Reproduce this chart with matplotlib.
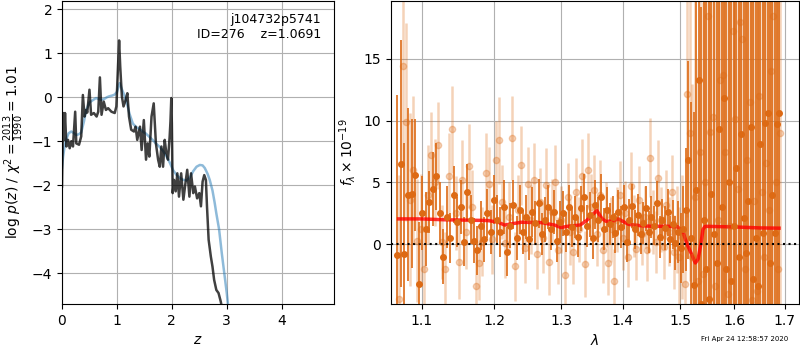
import numpy as np
import matplotlib
matplotlib.use('Agg')
import matplotlib.pyplot as plt
from matplotlib.ticker import FixedLocator, NullLocator, FormatStrFormatter

# p(z) curves (left panel)
z_prior = [0.00, 0.02, 0.05, 0.08, 0.12, 0.17, 0.22, 0.26, 0.31, 0.35, 0.40, 0.44, 0.50,
           0.57, 0.62, 0.66, 0.72, 0.77, 0.82, 0.86, 0.92, 0.96, 1.00, 1.05, 1.09, 1.14,
           1.19, 1.23, 1.29, 1.35, 1.41, 1.47, 1.53, 1.59, 1.65, 1.71, 1.77, 1.84, 1.90,
           1.96, 2.02, 2.08, 2.15, 2.21, 2.27, 2.33, 2.39, 2.45, 2.51, 2.56, 2.60, 2.65,
           2.69, 2.74, 2.78, 2.81, 2.86, 2.91, 2.95, 3.00, 3.03]
lnp_prior = [-1.60, -1.35, -1.10, -0.95, -0.82, -0.78, -0.82, -0.86, -0.84, -0.80, -0.55,
             -0.29, -0.12, -0.06, -0.02, -0.04, -0.06, -0.04, 0.00, 0.02, 0.04, 0.06, 0.12,
             0.32, 0.18, 0.03, -0.18, -0.38, -0.60, -0.68, -0.72, -0.78, -0.83, -0.90,
             -0.97, -1.05, -1.12, -1.22, -1.34, -1.48, -1.65, -1.76, -1.84, -1.88, -1.89,
             -1.82, -1.68, -1.58, -1.54, -1.55, -1.61, -1.74, -1.88, -2.12, -2.40, -2.64,
             -3.00, -3.55, -3.95, -4.45, -4.80]

z_fit = [0.00, 0.02, 0.04, 0.055, 0.08, 0.11, 0.14, 0.17, 0.20, 0.24, 0.26, 0.31, 0.35,
         0.38, 0.41, 0.44, 0.46, 0.50, 0.53, 0.58, 0.63, 0.66, 0.69, 0.72, 0.76, 0.80,
         0.84, 0.90, 0.96, 0.99, 1.02, 1.04, 1.06, 1.09, 1.12, 1.16, 1.19, 1.22, 1.26,
         1.31, 1.34, 1.37, 1.42, 1.45, 1.49, 1.53, 1.56, 1.59, 1.63, 1.67, 1.71, 1.75,
         1.78, 1.81, 1.84, 1.87, 1.90, 1.93, 1.96, 1.975, 1.99, 2.00, 2.015, 2.04, 2.07,
         2.10, 2.13, 2.17, 2.21, 2.24, 2.28, 2.32, 2.35, 2.39, 2.42, 2.46, 2.50, 2.53,
         2.56, 2.59, 2.62, 2.64, 2.67, 2.71, 2.74, 2.77, 2.81, 2.85, 2.89, 2.92]
lnp_fit = [-2.03, -0.36, -0.97, -0.36, -1.12, -0.97, -1.16, -1.00, -1.12, -0.33, -1.05,
           -1.08, -0.89, 0.05, -0.44, -0.29, -0.35, 0.17, -0.40, -0.36, -0.44, -0.33, 0.45,
           -0.40, -0.10, -0.29, -0.25, -0.33, -0.36, -0.21, 0.70, 1.29, 0.70, 0.02, -0.21,
           -0.06, 0.09, -0.44, -0.74, -0.78, -0.67, -0.97, -0.67, -1.20, -0.52, -1.42,
           -1.05, -1.35, -0.44, -0.14, -1.05, -1.42, -1.58, -1.12, -1.58, -0.97, -1.27,
           -1.42, -0.90, -0.55, -0.02, -0.60, -2.18, -1.88, -2.14, -1.73, -2.26, -1.73,
           -2.33, -2.03, -1.65, -2.26, -1.73, -2.18, -2.03, -2.30, -2.18, -2.48, -1.92,
           -1.77, -1.88, -2.48, -3.24, -3.62, -3.85, -4.15, -4.38, -4.45, -4.64, -4.83]

# spectrum (right panel), two position angles on a constant-dispersion grid
lam_a = np.arange(133) * 0.0047 + 1.068
flux_a = [-0.9, 6.5, -0.8, 4.0, 4.1, 5.6, -3.2, 2.5, 1.2, 3.4, 4.5, 5.5, 2.5, -1.0, 2.2,
          0.5, 4.0, 1.8, 3.0, 0.2, 4.2, 2.0, 0.3, -0.5, 1.5, 0.4, 2.5, 1.0, 3.6, 2.0, 1.0,
          3.0, -0.6, 1.5, 3.2, 0.5, 2.8, 1.0, 2.2, 0.4, 2.6, 1.7, 3.3, 0.8, 2.0, 3.0, 1.2,
          2.6, 0.3, 1.8, 2.5, 1.0, 3.0, 1.4, 2.2, 0.6, 2.9, 3.8, 1.5, 2.4, 0.5, 3.2, 2.0,
          3.8, 1.2, 2.8, 1.6, 2.2, 0.9, 2.6, 1.4, 3.0, 0.2, 2.0, 3.1, 1.2, 2.4, 0.8, 1.7,
          2.9, 1.0, 2.2, 1.5, 3.3, 0.6, 2.0, 1.3, 2.6, 0.4, 1.6, 0.1, 1.0, -0.3, 1.2, 2.8,
          6.8, 0.5, -3.3, 4.4, 13.3, -4.8, 2.0, -2.0, -4.4, 4.1, 0.8, -1.5, 9.3, 3.0, 11.8,
          -2.0, 5.0, -3.0, 1.5, 6.2, -1.0, 8.9, 2.1, -0.7, 3.5, 9.5, -2.8, 0.5, -3.4, 8.1,
          0.9, 9.8, 10.6, -1.5, 4.0, 0.9, 9.7, 10.6]
err_a = [13, 10, 9, 7, 6, 4.5, 5, 3, 3, 2.5, 3, 2.7, 2.5, 2.2, 2.5, 2, 2.3, 2, 2.2, 2, 2.3,
         2, 1.8, 2, 2, 1.8, 2, 1.8, 2, 2, 2, 2.2, 2, 1.8, 2, 1.8, 2, 1.8, 1.8, 1.7, 2, 1.8,
         2, 1.7, 1.8, 1.8, 1.7, 1.8, 1.7, 1.7, 1.8, 1.6, 1.8, 1.6, 1.7, 1.6, 1.8, 1.9, 1.7,
         1.8, 1.7, 2, 1.8, 1.9, 1.7, 1.8, 1.7, 1.7, 1.6, 1.8, 1.7, 1.8, 1.6, 1.7, 1.8, 1.6,
         1.7, 1.6, 1.7, 1.8, 1.7, 1.7, 1.6, 1.8, 1.7, 1.7, 1.8, 1.9, 1.9, 2.0, 2.2, 2.5,
         2.8, 3.5, 5, 8, 11, 14, 18, 22, 24, 22, 24, 25, 24, 25, 26, 27, 26, 28, 27, 28, 28,
         29, 30, 30, 30, 31, 31, 32, 32, 33, 33, 34, 34, 35, 35, 36, 36, 37, 37, 38, 38]

lam_b = np.arange(133) * 0.0047 + 1.0704
flux_b = [-4.4, 14.4, 9.9, 3.6, 6.0, 0.3, 1.2, -2.0, 4.0, 7.2, 5.0, 8.0, 0.2, -2.0, 5.5,
          9.3, 2.5, -1.4, 5.2, 1.0, 6.3, 3.0, -3.4, -1.5, 0.2, 5.8, 4.9, 0.4, 6.8, 8.4, 3.4,
          0.1, 2.2, 8.6, -1.8, 2.8, 6.4, -0.3, 4.9, 2.0, 5.2, -0.8, 3.4, 0.5, 4.8, -1.4,
          2.6, 5.0, -0.5, 2.0, -2.5, 3.8, 1.0, -0.6, 4.2, 1.2, 5.5, -1.6, 6.0, 3.0, 4.4,
          0.8, 4.0, -0.5, 2.4, -1.5, 1.2, -3.0, 2.0, 4.0, 0.5, 2.5, -1.0, 4.7, 1.5, -0.4,
          3.6, 0.8, 2.2, -0.5, 7.0, 1.8, 0.2, 5.4, 2.0, -0.2, 3.2, 1.0, 4.2, -0.6, 1.2,
          -1.0, 0.6, -3.2, 12.2, 9.0, -1.0, 3.8, -3.0, 7.5, -2.4, 5.0, 18.5, 9.1, 10.3,
          -3.4, 2.0, 13.3, 13.7, 7.5, -4.0, 1.5, 17.3, 10.1, 4.5, 18.0, 16.6, -2.0, 6.8,
          11.5, -4.5, 3.5, -3.8, 12.0, 4.2, -1.0, 6.6, 2.8, 14.0, 18.5, 5.0, -2.0, 9.0]
err_b = [10, 8, 8, 7, 6, 5, 4.5, 4, 4, 3.5, 3.5, 3.5, 3, 3, 3.5, 3.5, 3, 3, 3.2, 3, 3.4, 3,
         3, 3, 2.8, 3.2, 3, 2.8, 3.2, 3.5, 3, 2.8, 2.8, 3.4, 2.8, 2.8, 3.2, 2.8, 3, 2.8, 3,
         2.8, 2.8, 2.8, 3, 2.7, 2.7, 3, 2.7, 2.7, 2.7, 2.8, 2.7, 2.6, 2.8, 2.6, 3, 2.7, 3,
         2.7, 2.8, 2.6, 2.8, 2.6, 2.6, 2.6, 2.6, 2.6, 2.6, 2.7, 2.6, 2.6, 2.5, 2.8, 2.5,
         2.5, 2.7, 2.5, 2.5, 2.5, 3.2, 2.6, 2.5, 3, 2.6, 2.6, 2.8, 2.8, 3, 3, 3.5, 4, 5, 6,
         10, 12, 14, 16, 18, 20, 22, 22, 24, 24, 25, 25, 26, 26, 27, 27, 28, 28, 29, 29,
         30, 30, 31, 31, 32, 32, 33, 33, 34, 34, 35, 35, 36, 36, 37, 37, 38, 38, 39]

# best-fit model
lam_model = [1.070, 1.100, 1.130, 1.160, 1.190, 1.205, 1.215, 1.225, 1.240, 1.270, 1.290,
             1.300, 1.310, 1.330, 1.340, 1.350, 1.357, 1.365, 1.372, 1.385, 1.392, 1.400,
             1.410, 1.430, 1.450, 1.480, 1.495, 1.505, 1.512, 1.520, 1.527, 1.532, 1.537,
             1.541, 1.545, 1.600, 1.650, 1.688]
flux_model = [2.05, 2.05, 1.98, 1.95, 1.92, 1.80, 1.55, 1.65, 1.78, 1.75, 1.55, 1.35, 1.45,
              1.55, 1.90, 2.40, 2.72, 2.10, 1.85, 1.90, 2.05, 1.85, 1.60, 1.50, 1.45, 1.45,
              1.40, 0.90, 0.00, -0.80, -1.52, -1.20, 0.00, 1.20, 1.45, 1.40, 1.32, 1.30]

spec_color = '#dd6a14'

fig = plt.figure(figsize=(8, 3.5), dpi=100)

ax = fig.add_axes([0.0775, 0.1314, 0.3405, 0.865])
ax.plot(z_prior, lnp_prior, color='#1f77b4', alpha=0.5, linewidth=1.8)
ax.plot(z_fit, lnp_fit, color='k', alpha=0.75, linewidth=1.8)
ax.set_xlim(0, 4.96)
ax.set_ylim(-4.70, 2.18)
ax.set_xlabel('$z$')
ax.set_ylabel(r'$\log\,p(z)$ / $\chi^2=\frac{2013}{1990}=1.01$')
ax.grid()
ax.text(0.95, 0.96, 'j104732p5741\nID=276    z=1.0691', transform=ax.transAxes,
        ha='right', va='top', fontsize=9)

ax = fig.add_axes([0.4884, 0.1314, 0.5104, 0.865])
ax.errorbar(lam_b, flux_b, err_b, color=spec_color, alpha=0.3, marker='o',
            markersize=4.5, linestyle='None', elinewidth=1.8)
ax.errorbar(lam_a, flux_a, err_a, color=spec_color, alpha=1, marker='o',
            markersize=4, linestyle='None', elinewidth=1.2)
ax.plot(lam_model, flux_model, color='r', alpha=0.8, linewidth=2.5)
ax.axhline(0, color='k', linestyle=':', linewidth=1.5)
ax.set_xscale('log')
ax.xaxis.set_major_locator(FixedLocator([1.1, 1.2, 1.3, 1.4, 1.5, 1.6, 1.7]))
ax.xaxis.set_major_formatter(FormatStrFormatter('%.1f'))
ax.xaxis.set_minor_locator(NullLocator())
ax.set_xlim(1.06, 1.729)
ax.set_ylim(-4.84, 19.67)
ax.set_yticks([0, 5, 10, 15])
ax.set_xlabel(r'$\lambda$')
ax.set_ylabel(r'$f_\lambda \times 10^{-19}$')
ax.grid()

fig.text(0.985, 0.03, 'Fri Apr 24 12:58:57 2020', ha='right', va='center', fontsize=5)

fig.savefig('out.png')
